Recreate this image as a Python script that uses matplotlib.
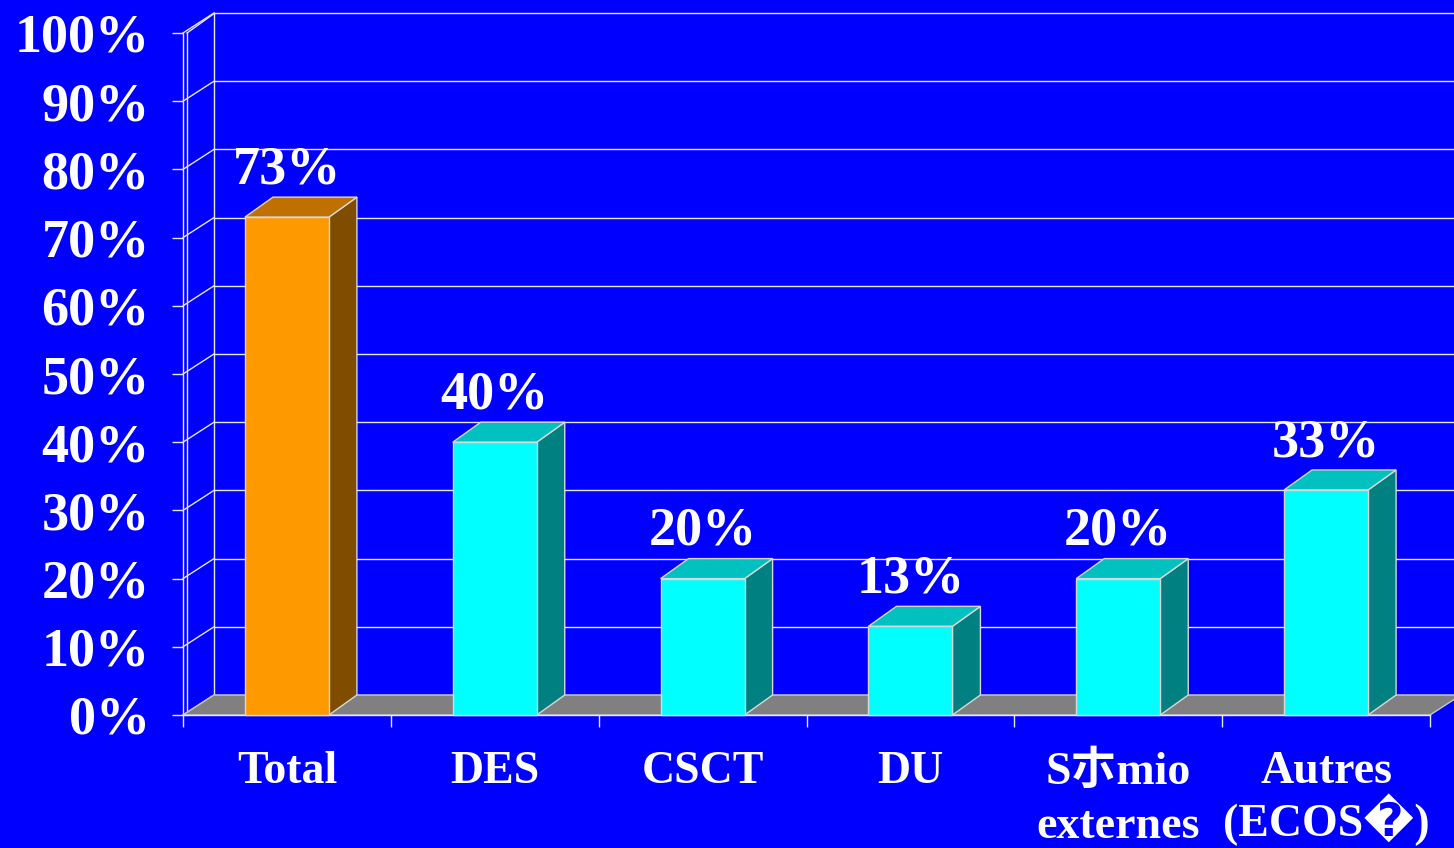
import matplotlib.pyplot as plt
from matplotlib.patches import Polygon

# chart data
categories = ['Total', 'DES', 'CSCT', 'DU', 'S朩mio\nexternes', 'Autres\n(ECOS\ufffd)']
values = [73, 40, 20, 13, 20, 33]
value_labels = ['73%', '40%', '20%', '13%', '20%', '33%']
yticks = list(range(0, 101, 10))

plt.rcParams['font.family'] = ['Liberation Serif', 'Noto Sans CJK SC', 'DejaVu Sans']
plt.rcParams['font.weight'] = 'bold'

W, H = 1454, 848
BLUE = '#0000FF'
LINE = '#E6E6FF'

fig = plt.figure(figsize=(W / 100, H / 100), dpi=100, facecolor=BLUE)
# axes = the front plane of the 3d box
ax = fig.add_axes([183 / W, 133 / H, (1430 - 183) / W, (715 - 33) / H])
ax.set_facecolor('none')
n = len(categories)
ax.set_xlim(0, n)
ax.set_ylim(0, 100)

# pixel -> data conversion for the depth offsets
px_x = (1430 - 183) / n
px_y = (715 - 33) / 100
wall_dx, wall_dy = 31 / px_x, 20 / px_y
bar_dx, bar_dy = 28 / px_x, 20 / px_y
bar_w = 84 / px_x
thick = 4 / px_x

# back wall + left wall
for t in yticks:
    ax.plot([wall_dx, n + wall_dx + 0.3], [t + wall_dy] * 2, color=LINE, lw=1, clip_on=False, zorder=1)
    ax.plot([0, wall_dx], [t, t + wall_dy], color=LINE, lw=1, clip_on=False, zorder=1)
ax.plot([wall_dx] * 2, [wall_dy, 100 + wall_dy], color=LINE, lw=1, clip_on=False, zorder=1)
ax.plot([thick] * 2, [0, 100], color=LINE, lw=1, clip_on=False, zorder=1)
ax.plot([thick, wall_dx], [100, 100 + wall_dy * 0.97], color=LINE, lw=1, clip_on=False, zorder=1)

# floor
floor = Polygon([(0, 0), (n, 0), (n + wall_dx, wall_dy), (wall_dx, wall_dy)],
                closed=True, fc='#808080', ec='#C8C8C8', lw=1, clip_on=False, zorder=2)
ax.add_patch(floor)

# bars
for i, v in enumerate(values):
    if i == 0:
        front_c, side_c, top_c = '#FF9900', '#7F4C00', '#C07000'
    else:
        front_c, side_c, top_c = '#00FFFF', '#008080', '#00C0C0'
    x0 = i + 0.5 - bar_w / 2
    x1 = x0 + bar_w
    front = [(x0, 0), (x1, 0), (x1, v), (x0, v)]
    side = [(x1, 0), (x1 + bar_dx, bar_dy), (x1 + bar_dx, v + bar_dy), (x1, v)]
    top = [(x0, v), (x1, v), (x1 + bar_dx, v + bar_dy), (x0 + bar_dx, v + bar_dy)]
    for pts, c in [(side, side_c), (top, top_c), (front, front_c)]:
        ax.add_patch(Polygon(pts, closed=True, fc=c, ec='#D8D8D8', lw=1, clip_on=False, zorder=3))
    ax.annotate(value_labels[i], (i + 0.5, v + bar_dy), xytext=(0, 10), textcoords='offset points',
                ha='center', va='baseline', fontsize=39, color='white', zorder=4)

# axes / ticks
for s in ['top', 'right']:
    ax.spines[s].set_visible(False)
for s in ['left', 'bottom']:
    ax.spines[s].set_color(LINE)
    ax.spines[s].set_linewidth(1)
    ax.spines[s].set_zorder(2.5)

ax.set_yticks(yticks)
ax.set_yticklabels(['%d%%' % t for t in yticks])
ax.tick_params(axis='y', direction='out', length=8, width=1, color=LINE, pad=16,
               labelsize=39, labelcolor='white')

ax.set_xticks([i + 0.5 for i in range(n)])
ax.set_xticklabels(categories)
ax.set_xticks(range(n + 1), minor=True)
ax.tick_params(axis='x', which='major', length=0, pad=26, labelsize=33, labelcolor='white')
ax.tick_params(axis='x', which='minor', direction='out', length=8.6, width=1, color=LINE)
for lab in ax.get_xticklabels():
    # the replacement glyph comes from a taller fallback font, so tighten that one
    lab.set_linespacing(1.0 if '\ufffd' in lab.get_text() else 1.4)

fig.savefig('out.png', dpi=100, facecolor=BLUE)
